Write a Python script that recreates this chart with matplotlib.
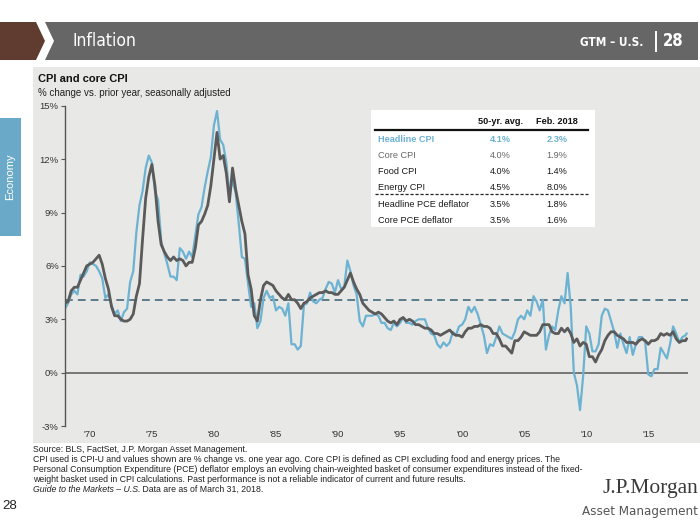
import numpy as np
import matplotlib
matplotlib.use("Agg")
import matplotlib.pyplot as plt
from matplotlib.patches import Polygon, Rectangle

# ---------------- data (quarterly: Jan, Apr, Jul, Oct) ----------------
start_year = 1968
headline_cpi = [
    3.6, 3.9, 4.4, 4.6,   # 1968
    4.4, 5.5, 5.4, 5.7,   # 1969
    6.2, 6.1, 6.0, 5.7,   # 1970
    5.3, 4.2, 4.4, 3.8,   # 1971
    3.3, 3.5, 2.9, 3.4,   # 1972
    3.6, 5.1, 5.7, 7.9,   # 1973
    9.4, 10.2, 11.5, 12.2,  # 1974
    11.8, 10.2, 9.7, 7.4,   # 1975
    6.7, 6.1, 5.4, 5.4,   # 1976
    5.2, 7.0, 6.8, 6.4,   # 1977
    6.8, 6.5, 7.7, 8.9,   # 1978
    9.3, 10.4, 11.3, 12.1,  # 1979
    13.9, 14.7, 13.1, 12.8,  # 1980
    11.8, 10.0, 10.8, 10.1,  # 1981
    8.4, 6.5, 6.4, 5.0,   # 1982
    3.7, 3.9, 2.5, 2.9,   # 1983
    4.2, 4.6, 4.2, 4.3,   # 1984
    3.5, 3.7, 3.6, 3.2,   # 1985
    3.9, 1.6, 1.6, 1.3,   # 1986
    1.5, 3.8, 3.9, 4.5,   # 1987
    4.0, 3.9, 4.1, 4.2,   # 1988
    4.7, 5.1, 5.0, 4.5,   # 1989
    5.2, 4.7, 4.8, 6.3,   # 1990
    5.7, 4.9, 4.4, 2.9,   # 1991
    2.6, 3.2, 3.2, 3.2,   # 1992
    3.3, 3.2, 2.8, 2.8,   # 1993
    2.5, 2.4, 2.8, 2.6,   # 1994
    2.8, 3.1, 2.8, 2.8,   # 1995
    2.7, 2.9, 3.0, 3.0,   # 1996
    3.0, 2.5, 2.2, 2.1,   # 1997
    1.6, 1.4, 1.7, 1.5,   # 1998
    1.7, 2.3, 2.1, 2.6,   # 1999
    2.7, 3.0, 3.7, 3.4,   # 2000
    3.7, 3.3, 2.7, 2.1,   # 2001
    1.1, 1.6, 1.5, 2.0,   # 2002
    2.6, 2.2, 2.1, 2.0,   # 2003
    1.9, 2.3, 3.0, 3.2,   # 2004
    3.0, 3.5, 3.2, 4.3,   # 2005
    4.0, 3.5, 4.1, 1.3,   # 2006
    2.1, 2.6, 2.4, 3.5,   # 2007
    4.3, 3.9, 5.6, 3.7,   # 2008
    0.0, -0.7, -2.1, -0.2,  # 2009
    2.6, 2.2, 1.2, 1.2,   # 2010
    1.6, 3.2, 3.6, 3.5,   # 2011
    2.9, 2.3, 1.4, 2.2,   # 2012
    1.6, 1.1, 2.0, 1.0,   # 2013
    1.6, 2.0, 2.0, 1.7,   # 2014
    -0.1, -0.2, 0.2, 0.2,  # 2015
    1.4, 1.1, 0.8, 1.6,   # 2016
    2.6, 2.2, 1.7, 2.0,   # 2017
    2.1,                  # Jan 2018
]
core_cpi = [
    3.9, 4.0, 4.6, 4.8,   # 1968
    4.8, 5.2, 5.6, 6.0,   # 1969
    6.1, 6.2, 6.4, 6.6,   # 1970
    6.1, 5.3, 4.7, 3.7,   # 1971
    3.2, 3.2, 3.0, 2.9,   # 1972
    2.9, 3.0, 3.3, 4.3,   # 1973
    5.0, 7.5, 9.8, 11.0,  # 1974
    11.7, 10.5, 8.5, 7.2,  # 1975
    6.8, 6.5, 6.3, 6.5,   # 1976
    6.3, 6.4, 6.3, 6.0,   # 1977
    6.2, 6.2, 7.0, 8.3,   # 1978
    8.5, 8.9, 9.4, 10.5,  # 1979
    12.0, 13.5, 12.0, 12.2,  # 1980
    11.2, 9.6, 11.5, 10.3,  # 1981
    9.4, 8.5, 7.8, 5.5,   # 1982
    4.7, 3.2, 2.9, 4.1,   # 1983
    4.9, 5.1, 5.0, 4.9,   # 1984
    4.6, 4.4, 4.2, 4.1,   # 1985
    4.4, 4.1, 4.1, 3.9,   # 1986
    3.6, 3.9, 4.0, 4.2,   # 1987
    4.3, 4.4, 4.5, 4.5,   # 1988
    4.6, 4.5, 4.5, 4.4,   # 1989
    4.4, 4.6, 4.8, 5.2,   # 1990
    5.6, 5.1, 4.7, 4.4,   # 1991
    3.9, 3.7, 3.5, 3.4,   # 1992
    3.3, 3.4, 3.3, 3.1,   # 1993
    2.9, 2.8, 2.9, 2.7,   # 1994
    3.0, 3.1, 2.9, 3.0,   # 1995
    2.9, 2.7, 2.7, 2.6,   # 1996
    2.5, 2.5, 2.4, 2.2,   # 1997
    2.2, 2.1, 2.2, 2.3,   # 1998
    2.4, 2.2, 2.1, 2.1,   # 1999
    2.0, 2.3, 2.5, 2.5,   # 2000
    2.6, 2.6, 2.7, 2.6,   # 2001
    2.6, 2.5, 2.2, 2.2,   # 2002
    1.9, 1.5, 1.5, 1.3,   # 2003
    1.1, 1.8, 1.8, 2.0,   # 2004
    2.3, 2.2, 2.1, 2.1,   # 2005
    2.1, 2.3, 2.7, 2.7,   # 2006
    2.7, 2.3, 2.2, 2.2,   # 2007
    2.5, 2.3, 2.5, 2.2,   # 2008
    1.7, 1.9, 1.5, 1.7,   # 2009
    1.6, 0.9, 0.9, 0.6,   # 2010
    1.0, 1.3, 1.8, 2.1,   # 2011
    2.3, 2.3, 2.1, 2.0,   # 2012
    1.9, 1.7, 1.7, 1.7,   # 2013
    1.6, 1.8, 1.9, 1.8,   # 2014
    1.6, 1.8, 1.8, 1.9,   # 2015
    2.2, 2.1, 2.2, 2.1,   # 2016
    2.3, 1.9, 1.7, 1.8,   # 2017
    1.8,                  # Jan 2018
]
latest_date = 2018 + 1 / 12          # Feb. 2018
latest_headline = 2.2
latest_core = 1.9
headline_50yr_avg = 4.1

y_ticks = [-3, 0, 3, 6, 9, 12, 15]
y_tick_labels = ["-3%", "0%", "3%", "6%", "9%", "12%", "15%"]
x_tick_years = [1970, 1975, 1980, 1985, 1990, 1995, 2000, 2005, 2010, 2015]
x_tick_labels = ["'70", "'75", "'80", "'85", "'90", "'95", "'00", "'05", "'10", "'15"]

table_header = ["50-yr. avg.", "Feb. 2018"]
table_labels = ["Headline CPI", "Core CPI", "Food CPI", "Energy CPI",
                "Headline PCE deflator", "Core PCE deflator"]
table_avg = ["4.1%", "4.0%", "4.0%", "4.5%", "3.5%", "3.5%"]
table_latest = ["2.3%", "1.9%", "1.4%", "8.0%", "1.8%", "1.6%"]

footnotes = [
    "Source: BLS, FactSet, J.P. Morgan Asset Management.",
    "CPI used is CPI-U and values shown are % change vs. one year ago. Core CPI is defined as CPI excluding food and energy prices. The",
    "Personal Consumption Expenditure (PCE) deflator employs an evolving chain-weighted basket of consumer expenditures instead of the fixed-",
    "weight basket used in CPI calculations. Past performance is not a reliable indicator of current and future results.",
]

# ---------------- styling ----------------
BLUE = "#6cb2d2"
DARK = "#5a5a5a"
PANEL = "#e8e8e6"
SANS = ["Liberation Sans", "DejaVu Sans"]
plt.rcParams["font.family"] = SANS

W, H = 700, 525
fig = plt.figure(figsize=(W / 100, H / 100), dpi=100)

# background overlay in pixel coordinates
bg = fig.add_axes([0, 0, 1, 1], zorder=0)
bg.set_xlim(0, W)
bg.set_ylim(H, 0)
bg.axis("off")

# header bar
bg.add_patch(Polygon([(0, 22), (36, 22), (45, 41), (36, 60), (0, 60)],
                     closed=True, color="#5f3c2f", lw=0))
bg.add_patch(Polygon([(45, 22), (698, 22), (698, 60), (45, 60), (54, 41)],
                     closed=True, color="#666666", lw=0))
bg.text(73, 41.5, "Inflation", color="white", fontsize=12.5, va="center",
        ha="left", family=["DejaVu Sans"], fontstretch="condensed")
bg.text(643, 42, "GTM – U.S.", color="white", fontsize=8.5, va="center",
        ha="right", family=["DejaVu Sans"], fontstretch="condensed",
        fontweight="bold")
bg.plot([656, 656], [32, 51], color="white", lw=1.4)
bg.text(684, 41.5, "28", color="white", fontsize=12, va="center", ha="right",
        family=["DejaVu Sans"], fontstretch="condensed", fontweight="bold")

# grey chart panel
bg.add_patch(Rectangle((33, 67), W - 33, 376, color=PANEL, lw=0))

# side tab
bg.add_patch(Rectangle((0, 118), 20.5, 118, color="#6aaac8", lw=0))
bg.text(10, 177, "Economy", color="white", rotation=90, fontsize=8,
        ha="center", va="center")

# titles
bg.text(38, 79, "CPI and core CPI", fontsize=8, fontweight="bold",
        color="#111111", va="center", ha="left")
bg.text(38, 92.5, "% change vs. prior year, seasonally adjusted",
        fontsize=7, color="#222222", va="center", ha="left")

# footnotes
FN = 6.3
for i, line in enumerate(footnotes):
    bg.text(33, 449 + 10 * i, line, fontsize=FN, color="#222222",
            va="center", ha="left")
t_it = bg.text(33, 489, "Guide to the Markets – U.S.", fontsize=FN,
               style="italic", color="#222222", va="center", ha="left")
bg.annotate(" Data are as of March 31, 2018.", xy=(1, 0.5),
            xycoords=t_it, fontsize=FN, color="#222222",
            va="center", ha="left")

# page number & logo
bg.text(2, 506, "28", fontsize=9.5, color="#222222", va="center", ha="left")
bg.text(698, 489, "J.P.Morgan", fontsize=15.5, color="#3a3a3a",
        family=["Liberation Serif", "DejaVu Serif"], va="center", ha="right")
bg.text(698, 511, "Asset Management", fontsize=9.5, color="#555555",
        family=["DejaVu Sans"], fontstretch="condensed", va="center", ha="right")

# ---------------- chart ----------------
x0_px, x1_px = 65, 688
y_top_px, y_bot_px = 105.7, 426.1
ax = fig.add_axes([x0_px / W, 1 - y_bot_px / H, (x1_px - x0_px) / W,
                   (y_bot_px - y_top_px) / H], zorder=1)
ax.set_facecolor("none")

q_dates = start_year + 0.25 * np.arange(len(headline_cpi))
dates = np.append(q_dates, latest_date)
head = np.append(headline_cpi, latest_headline)
core = np.append(core_cpi, latest_core)

ax.axhline(0, color="#6e6e6e", lw=1.3, zorder=1)
ax.axhline(headline_50yr_avg, color="#5d7b8a", lw=1.4, ls=(0, (4, 2.6)), zorder=1)
ax.plot(dates, head, color=BLUE, lw=1.6, zorder=2, solid_joinstyle="round")
ax.plot(dates, core, color=DARK, lw=2.0, zorder=3, solid_joinstyle="round")

ax.set_xlim(start_year, 2018.2)
ax.set_ylim(-3, 15)
for s in ["top", "right", "bottom"]:
    ax.spines[s].set_visible(False)
ax.spines["left"].set_color("#555555")
ax.spines["left"].set_linewidth(1.0)
ax.set_yticks(y_ticks)
ax.set_yticklabels(y_tick_labels)
ax.tick_params(axis="y", direction="out", length=3, width=0.8, color="#555555",
               labelsize=6.8, labelcolor="#333333", pad=1.5)
ax.set_xticks(x_tick_years)
ax.set_xticklabels(x_tick_labels)
ax.tick_params(axis="x", length=0, labelsize=6.8, labelcolor="#333333", pad=3)

# ---------------- table overlay ----------------
fg = fig.add_axes([0, 0, 1, 1], zorder=5)
fg.set_xlim(0, W)
fg.set_ylim(H, 0)
fg.axis("off")
fg.patch.set_alpha(0)
fg.add_patch(Rectangle((371, 110), 224, 117, facecolor="white", edgecolor="none"))
TF = 6.6
col_avg, col_latest = 500.5, 557
fg.text(col_avg, 122, table_header[0], fontsize=TF, fontweight="bold",
        color="#111111", ha="center", va="center")
fg.text(col_latest, 122, table_header[1], fontsize=TF, fontweight="bold",
        color="#111111", ha="center", va="center")
fg.plot([375, 588], [130, 130], color="#111111", lw=1.6)
row_y = [139.3, 155.7, 171.7, 187.5, 204.5, 220.3]
for i, (lab, a, l) in enumerate(zip(table_labels, table_avg, table_latest)):
    if i == 0:
        kw = dict(color=BLUE, fontweight="bold")
    elif i == 1:
        kw = dict(color="#666666")
    else:
        kw = dict(color="#1a1a1a")
    fg.text(378, row_y[i], lab, fontsize=TF, ha="left", va="center", **kw)
    fg.text(col_avg, row_y[i], a, fontsize=TF, ha="center", va="center", **kw)
    fg.text(col_latest, row_y[i], l, fontsize=TF, ha="center", va="center", **kw)
fg.plot([375, 588], [194.3, 194.3], color="#222222", lw=0.9, ls=(0, (2.5, 1.5)))

fig.savefig("out.png", dpi=100)
